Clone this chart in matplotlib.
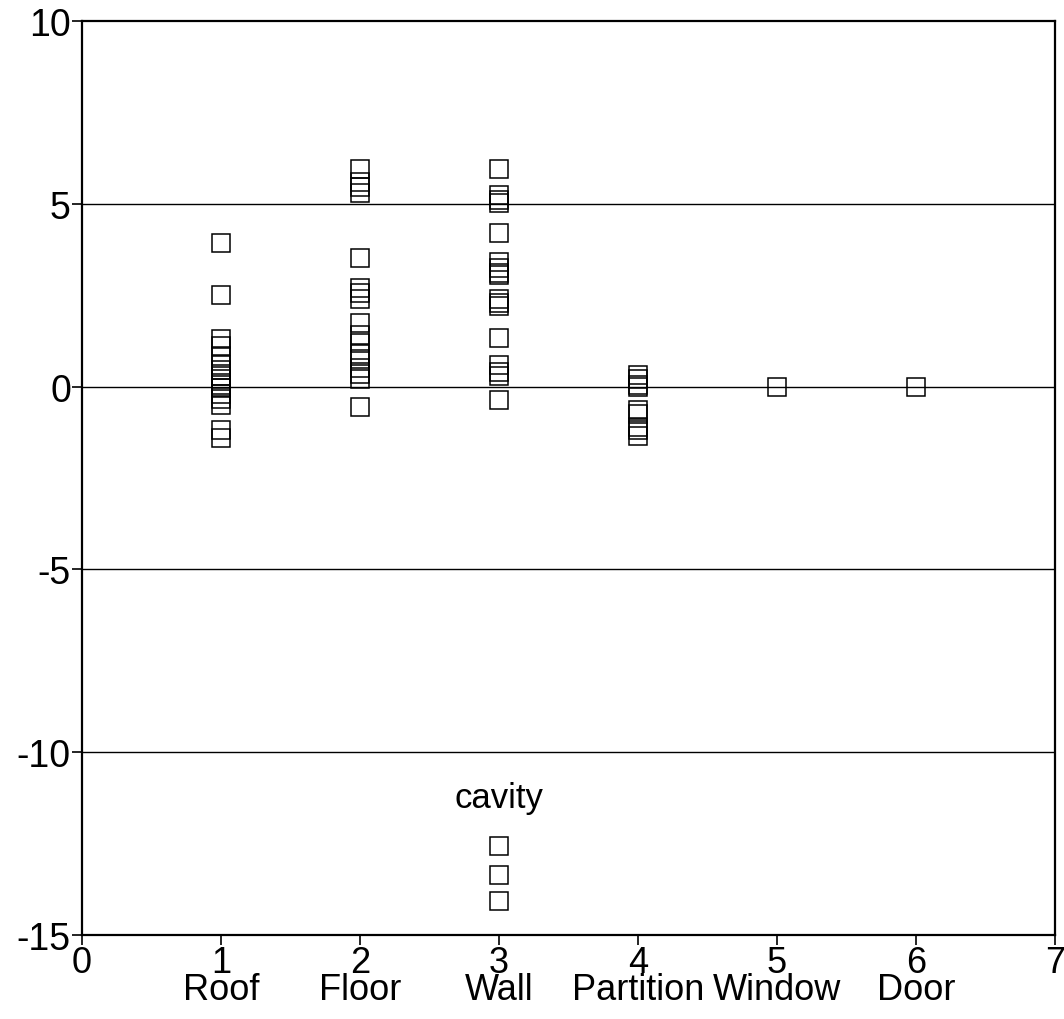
import matplotlib.pyplot as plt

plt.rcParams['font.family'] = ['Liberation Sans', 'DejaVu Sans']

# Element categories (x position = 1..6)
categories = ['Roof', 'Floor', 'Wall', 'Partition', 'Window', 'Door']

roof = [3.93, 2.5, 1.3, 1.1, 0.85, 0.6, 0.45, 0.3, 0.2, 0.05, -0.05, -0.2, -0.35, -0.5, -1.2, -1.4]
floor = [5.95, 5.6, 5.45, 5.3, 3.53, 2.7, 2.55, 2.4, 1.75, 1.4, 1.2, 0.9, 0.75, 0.5, 0.35, 0.22, -0.57]
wall = [5.95, 5.23, 5.1, 5.03, 4.2, 3.4, 3.25, 3.1, 3.04, 2.4, 2.3, 2.2, 1.33, 0.6, 0.4, 0.3, -0.37,
        -12.57, -13.36, -14.07]
partition = [0.33, 0.2, 0.05, 0.0, -0.65, -0.75, -1.1, -1.2, -1.35]
window = [0.0]
door = [0.0]

values = [roof, floor, wall, partition, window, door]

fig = plt.figure(figsize=(10.64, 10.2), dpi=100)
ax = fig.add_axes([82 / 1064, 84 / 1020, 973 / 1064, 914 / 1020])

# horizontal reference lines
for yv in [5, 0, -5, -10]:
    ax.axhline(yv, color='black', linewidth=1.0, zorder=1)

for i, vals in enumerate(values):
    ax.plot([i + 1] * len(vals), vals, linestyle='none', marker='s', markersize=12.8,
            markerfacecolor='none', markeredgecolor='black', markeredgewidth=1.1, zorder=3)

ax.text(3, -11.25, 'cavity', ha='center', va='center', fontsize=25)

ax.set_xlim(0, 7)
ax.set_ylim(-15, 10)
ax.set_xticks(range(0, 8))
xlabels = ['0'] + [f'{i + 1}\n{c}' for i, c in enumerate(categories)] + ['7']
ax.set_xticklabels(xlabels, fontsize=26, linespacing=0.72, va='top')
ax.set_yticks([-15, -10, -5, 0, 5, 10])
ax.set_yticklabels(['-15', '-10', '-5', '0', '5', '10'], fontsize=27)
ax.tick_params(axis='both', direction='out', length=7, width=1.2, colors='black', pad=1)
ax.tick_params(axis='x', pad=0)

for s in ax.spines.values():
    s.set_linewidth(1.6)
    s.set_color('black')

fig.savefig('out.png', dpi=100)
